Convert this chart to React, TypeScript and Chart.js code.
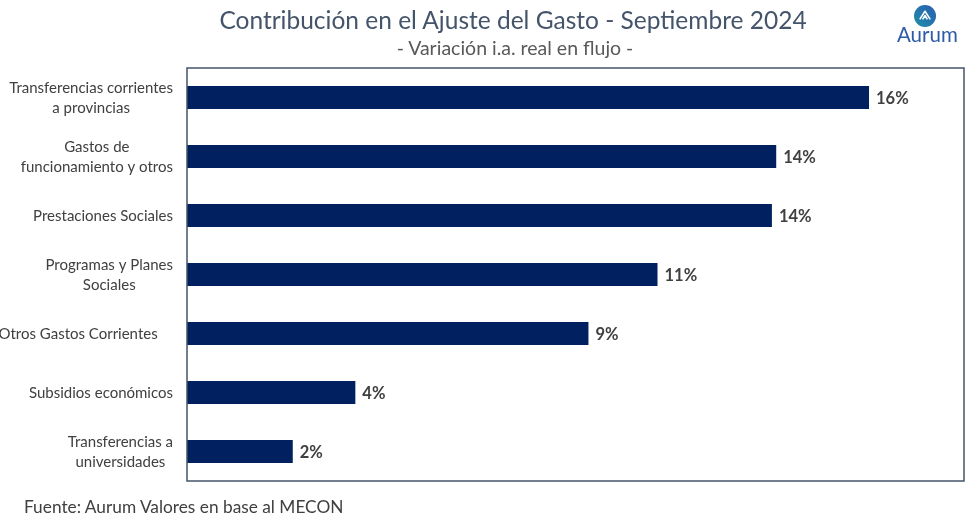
import React, { useEffect, useRef } from "react";
import { Chart, registerables } from "chart.js";
Chart.register(...registerables);

const categories: string[][] = [
  ["Transferencias corrientes", "a provincias"],
  ["Gastos de", "funcionamiento y otros"],
  ["Prestaciones Sociales"],
  ["Programas y Planes", "Sociales"],
  ["Otros Gastos Corrientes    "],
  ["Subsidios económicos"],
  ["Transferencias a", "universidades"],
];
const values = [15.8, 13.65, 13.55, 10.9, 9.3, 3.9, 2.45];
const axisMax = 18;

const titleText = "Contribución en el Ajuste del Gasto - Septiembre 2024";
const subtitleText = "- Variación i.a. real en flujo -";
const footerText = "Fuente: Aurum Valores en base al MECON";

const FONT = "Lato, 'Open Sans', sans-serif";

const decor = {
  id: "decor",
  afterDatasetsDraw(chart: any) {
    const { ctx, chartArea: a } = chart;
    const ys = chart.scales.y;
    const xs = chart.scales.x;
    ctx.save();
    ctx.strokeStyle = "#44546A";
    ctx.lineWidth = 1.5;
    ctx.strokeRect(a.left, a.top, a.right - a.left, a.bottom - a.top);
    ctx.font = `15px ${FONT}`;
    ctx.fillStyle = "#404040";
    ctx.textBaseline = "middle";
    ctx.textAlign = "center";
    categories.forEach((lines, i) => {
      const cy = ys.getPixelForValue(i) + 1;
      const w = Math.max(...lines.map((l) => ctx.measureText(l).width));
      const cx = a.left - 14 - w / 2;
      const lh = 20;
      lines.forEach((l, j) =>
        ctx.fillText(l, cx, cy + (j - (lines.length - 1) / 2) * lh)
      );
    });
    ctx.font = `bold 16.5px ${FONT}`;
    ctx.textAlign = "left";
    ctx.fillStyle = "#404040";
    values.forEach((v, i) =>
      ctx.fillText(Math.round(v) + "%", xs.getPixelForValue(v) + 7, ys.getPixelForValue(i) + 1)
    );
    ctx.restore();
  },
};

function BarChart() {
  const ref = useRef<HTMLCanvasElement>(null);
  useEffect(() => {
    const chart = new Chart(ref.current!, {
      type: "bar",
      data: {
        labels: categories.map((c) => c.join(" ")),
        datasets: [
          {
            data: values,
            backgroundColor: "#002060",
            borderWidth: 0,
            categoryPercentage: 1,
            barPercentage: 0.39,
          },
        ],
      },
      options: {
        indexAxis: "y",
        animation: false,
        responsive: false,
        maintainAspectRatio: false,
        layout: { padding: { left: 187, right: 11, top: 68, bottom: 38 } },
        plugins: { legend: { display: false }, tooltip: { enabled: false } },
        scales: {
          x: { display: false, min: 0, max: axisMax },
          y: { display: false },
        },
      },
      plugins: [decor],
    });
    return () => chart.destroy();
  }, []);
  return <canvas ref={ref} width={975} height={519} style={{ position: "absolute", left: 0, top: 0 }} />;
}

export default function App() {
  return (
    <div style={{ position: "fixed", left: 0, top: 0, width: 975, height: 519, background: "#fff", overflow: "hidden", fontFamily: FONT }}>
      <BarChart />
      <div style={{ position: "absolute", left: 513, top: 6, transform: "translateX(-50%)", whiteSpace: "nowrap", fontSize: 24.5, lineHeight: "27px", color: "#44546A" }}>
        {titleText}
      </div>
      <div style={{ position: "absolute", left: 515, top: 37, transform: "translateX(-50%)", whiteSpace: "nowrap", fontSize: 19.5, lineHeight: "22px", color: "#595959" }}>
        {subtitleText}
      </div>
      <div style={{ position: "absolute", left: 24, top: 496, whiteSpace: "nowrap", fontSize: 17.3, lineHeight: "22px", color: "#404040" }}>
        {footerText}
      </div>
      <svg style={{ position: "absolute", left: 914, top: 5 }} width={22} height={22} viewBox="0 0 23 23">
        <defs>
          <linearGradient id="lg" x1="0" y1="1" x2="1" y2="0">
            <stop offset="0" stopColor="#1E8FA8" />
            <stop offset="1" stopColor="#2B5CB0" />
          </linearGradient>
        </defs>
        <circle cx="11.5" cy="11.5" r="11.5" fill="url(#lg)" />
        <path d="M6 15 L11.5 6.5 L17 15 M9 15 L11.5 11 L14 15" stroke="#fff" strokeWidth="1.6" fill="none" strokeLinejoin="round" />
      </svg>
      <div style={{ position: "absolute", left: 897, top: 24, whiteSpace: "nowrap", fontSize: 20.5, lineHeight: "20px", color: "#2E5AA8" }}>
        Aurum
      </div>
    </div>
  );
}
